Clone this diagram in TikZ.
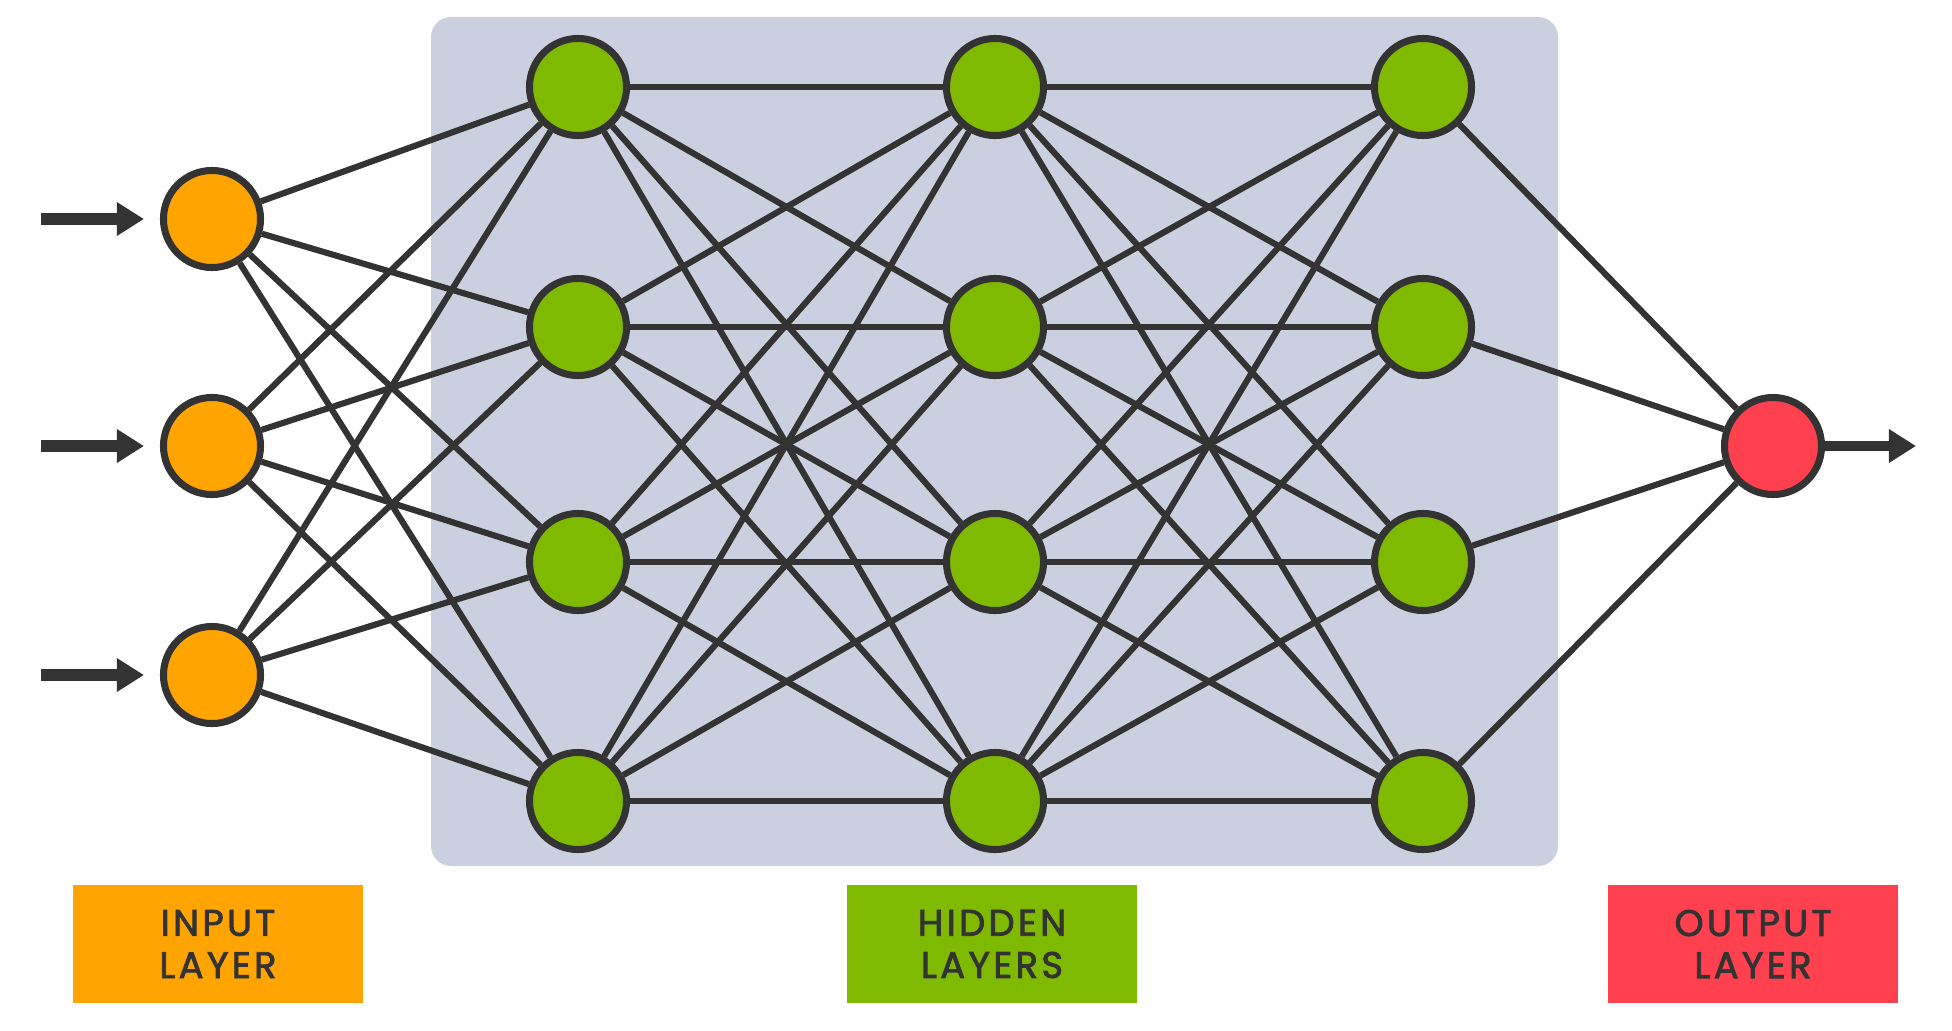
\documentclass[tikz,border=0pt]{standalone}
\usepackage{fontspec}
\setmainfont{Poppins}[LetterSpace=9, FakeBold=2.2]
\usepackage{tikz}
\usetikzlibrary{arrows.meta}
\definecolor{inorange}{HTML}{FFA400}
\definecolor{hidgreen}{HTML}{7FBA00}
\definecolor{outred}{HTML}{FF404E}
\definecolor{panel}{HTML}{CBD0E0}
\definecolor{ink}{HTML}{333333}
\tikzset{
  neuron/.style={circle, draw=ink, line width=2pt, minimum size=0.97cm, inner sep=0pt},
  synapse/.style={draw=ink, line width=1.75pt},
  legend/.style={minimum width=2.9cm, minimum height=1.18cm, inner sep=0pt, text=ink, align=center, font=\fontsize{10.5}{12}\selectfont},
  feed/.style={draw=ink, -{Triangle[length=7.7pt, width=9.1pt]}}
}

\begin{document}
\begin{tikzpicture}[x=0.01cm, y=-0.01cm]
    \useasboundingbox (0,0) rectangle (1952,1030);
    \fill[panel, rounded corners=0.2cm] (431,17) rectangle (1558,866);

    % neurons
    \foreach \y [count=\i] in {219,446,675}
        \node[neuron, fill=inorange] (in\i) at (212,\y) {};
    \foreach \x [count=\l] in {578,995,1423}
        \foreach \y [count=\i] in {87,327,562,801}
            \node[neuron, fill=hidgreen] (h\l\i) at (\x,\y) {};
    \node[neuron, fill=outred] (out) at (1773,446) {};

    % connections
    \foreach \i in {1,2,3}
        \foreach \j in {1,...,4}
            \draw[synapse] (in\i) -- (h1\j);
    \foreach \l/\m in {1/2,2/3}
        \foreach \i in {1,...,4}
            \foreach \j in {1,...,4}
                \draw[synapse] (h\l\i) -- (h\m\j);
    \foreach \j in {1,...,4}
        \draw[synapse] (h3\j) -- (out);

    % inputs and output
    \foreach \y [count=\i] in {219,446,675} {
        \coordinate (src\i) at (41,\y);
        \draw[feed, line width=3.6pt, shorten >=0.16cm] (src\i) -- (in\i);
    }
    \coordinate (sink) at (1916,446);
    \draw[feed, line width=2.6pt] (out) -- (sink);

    % legend
    \node[legend, fill=inorange] (inlbl) at (218,944) {INPUT\\LAYER};
    \node[legend, fill=hidgreen] (hidlbl) at (992,944) {HIDDEN\\LAYERS};
    \node[legend, fill=outred] (outlbl) at (1753,944) {OUTPUT\\LAYER};
\end{tikzpicture}
\end{document}
